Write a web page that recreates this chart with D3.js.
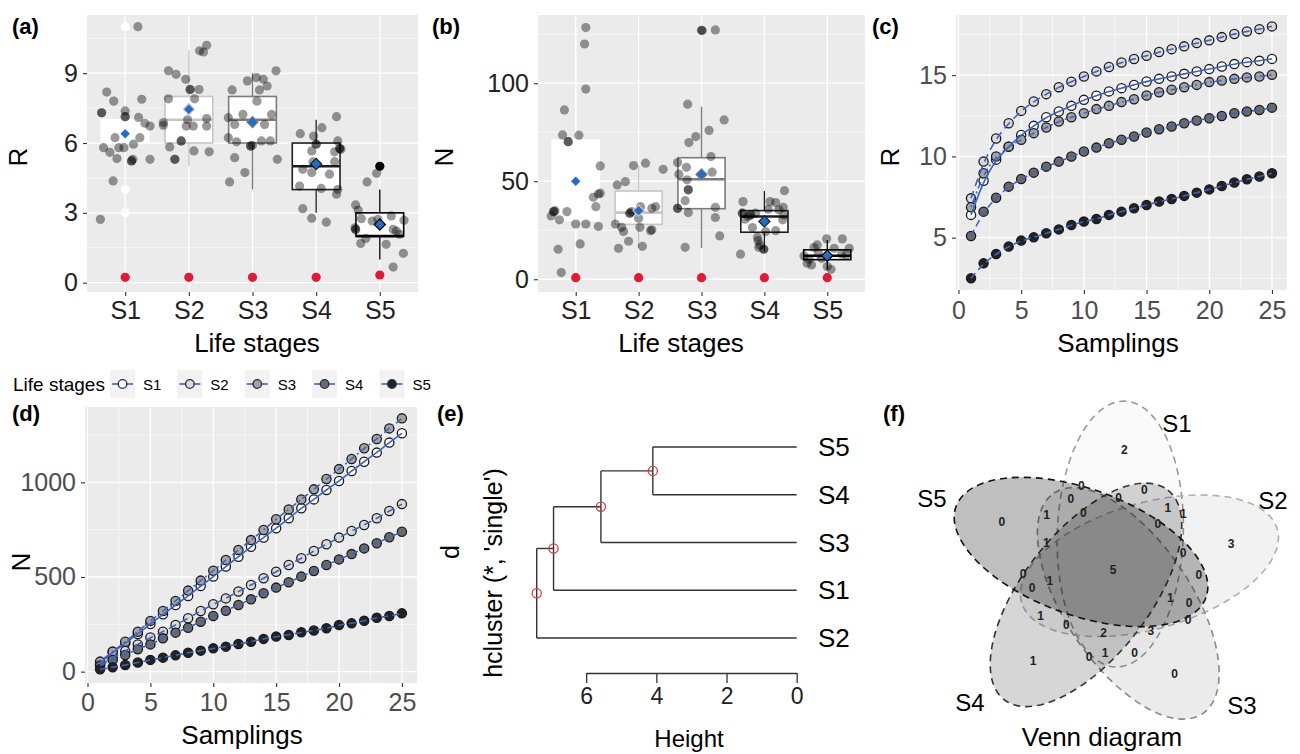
<!DOCTYPE html>
<html>
<head>
<meta charset="utf-8">
<script src="https://cdn.jsdelivr.net/npm/d3@7"></script>
<style>
  body { margin: 0; background: #fff; }
  text { font-family: "Liberation Sans", Arial, sans-serif; }
</style>
</head>
<body>
<svg id="fig" width="1300" height="754"></svg>
<script>
const FONT = "'Liberation Sans', Arial, sans-serif";

//life stages shared by all panels
const stages = ["S1", "S2", "S3", "S4", "S5"];

//(a) richness boxplots
const richQ1 = [6, 6, 6, 4, 2];
const richMed = [6, 7, 7, 5, 2];
const richQ3 = [7, 8, 8, 6, 3];
const richLo = [5, 5, 4, 3, 1];
const richHi = [8, 10, 9, 7, 4];
const richOut = [[3, 4, 11], [], [], [], [5]];
const richMean = [6.4, 7.45, 6.9, 5.1, 2.5];
const richZero = [0.23, 0.23, 0.23, 0.23, 0.33];
//jittered observations: [offset in category units, value]
const richJitter = [
  [[-0.39,2.72],[-0.29,8.19],[-0.37,7.3],[-0.37,7.3],[-0.18,7.8],[0,7.38],[0,7.13],[0,7.13],[-0.34,5.8],[-0.24,5.6],[-0.16,6.23],[-0.13,5.33],[-0.19,4.37],[-0.1,5.8],[-0.02,5.8],[0.1,5.23],[0.1,5.23],[0.12,5.3],[0.13,5.95],[0.21,7.1],[0.23,6.23],[0.26,7.88],[0.31,6.85],[0.39,6.73],[0.39,5.3],[0.2,11.0]],
  [[-0.32,9.1],[-0.2,8.95],[-0.05,8.74],[-0.32,7.9],[-0.4,6.88],[-0.4,6.76],[-0.3,5.83],[-0.22,5.3],[-0.22,5.3],[-0.12,6.09],[-0.12,6.09],[0.02,8.3],[0.02,8.3],[0.09,7.9],[0.16,8.3],[0.17,9.96],[0.23,9.91],[0.28,10.2],[-0.04,6.73],[0.07,6.73],[0.08,5.66],[0.28,7.05],[0.28,6.73],[0.32,5.62],[-0.02,7.0]],
  [[-0.36,4.33],[-0.32,8.28],[-0.38,7.09],[-0.38,6.23],[-0.28,6.8],[-0.25,6.05],[-0.28,5.37],[-0.12,4.73],[-0.15,7.23],[-0.08,8.67],[-0.03,5.87],[-0.03,5.87],[0,5.9],[0.06,8.81],[0.07,7.8],[0.11,8.28],[0.17,8.74],[0.23,8.45],[0.19,6.8],[0.14,6.09],[0.3,7.23],[0.28,6.09],[0.37,9.1],[0.39,5.3]],
  [[-0.25,6.4],[-0.21,4.87],[-0.26,4.15],[-0.21,3.18],[-0.07,2.77],[-0.04,6.3],[0,5.95],[0,5.95],[-0.07,5.66],[-0.05,5.19],[-0.07,4.73],[0.08,4.05],[0.09,6.66],[0.16,2.6],[0.21,4.66],[0.29,5.62],[0.29,5.2],[0.32,7.13],[0.34,6.09],[0.34,4.0],[0.32,3.8],[0.37,5.76],[0.37,5.76],[0.39,5.73]],
  [[-0.38,3.34],[-0.34,3.12],[-0.29,2.75],[-0.39,2.36],[-0.38,2.29],[-0.38,2.29],[-0.3,1.68],[-0.22,1.9],[-0.2,4.33],[-0.05,4.7],[-0.12,2.65],[-0.03,2.72],[0.1,1.65],[0.18,2.87],[0.21,2.29],[0.26,2.22],[0.31,2.08],[0.38,2.68],[0.37,1.26],[0.21,0.67]],
];

//(b) abundance boxplots
const abunQ1 = [30, 28, 36, 24, 10];
const abunMed = [40, 34, 51, 32, 12];
const abunQ3 = [71, 45, 62, 35, 15];
const abunLo = [3, 16, 16, 14, 5];
const abunHi = [128, 58, 88, 45, 20];
const abunOut = [[], [], [127], [], []];
const abunMean = [50, 35, 53.5, 29.5, 12];
const abunZero = [0.8, 0.8, 0.8, 0.8, 0.8];
const abunJitter = [
  [[-0.39,32.3],[-0.35,34.5],[-0.35,34.5],[-0.33,35],[-0.28,15.3],[-0.23,3.4],[-0.26,30.3],[-0.18,86.4],[-0.21,73.6],[-0.12,70.2],[-0.12,70.2],[-0.14,34.5],[0,28.2],[0.05,73.5],[0.07,18],[0.14,120],[0.16,128.4],[0.16,97],[0.16,28.2],[0.28,41.8],[0.32,37],[0.36,26.9],[0.39,57.8],[0.39,43.9],[0.36,43.5]],
  [[-0.34,48.1],[-0.21,49.8],[-0.37,28.2],[-0.27,26.5],[-0.24,24.3],[-0.32,15.8],[-0.16,19.4],[-0.14,33.7],[-0.14,33.7],[-0.11,34.5],[-0.08,58],[0,31.1],[0.03,37],[0.02,26.5],[0.06,16.8],[0.11,59.2],[0.19,24.8],[0.21,36.2],[0.21,25.2],[0.27,37],[0.39,56.1]],
  [[-0.38,59.5],[-0.36,53.6],[-0.38,36.2],[-0.38,36.2],[-0.26,40.1],[-0.24,57.1],[-0.23,50.7],[-0.21,45.6],[-0.21,45.6],[-0.21,34],[-0.2,69.7],[-0.26,16.3],[-0.22,89.3],[-0.09,72.8],[0.01,126.9],[0.12,75.9],[0.15,62.6],[0.17,54.6],[0.22,127.2],[0.22,36.7],[0.22,31.5],[0.29,22.1],[0.36,81.3]],
  [[-0.38,12.8],[-0.34,39.6],[-0.35,33.7],[-0.35,33.7],[-0.31,30.6],[-0.26,32],[-0.22,32.8],[-0.22,32.8],[-0.14,33.7],[-0.19,26.4],[-0.11,21.4],[-0.1,19.7],[-0.07,17.5],[-0.09,16.3],[-0.01,15.3],[-0.01,15.3],[0.02,24.3],[0.06,35.7],[0.09,39.6],[0.18,39.1],[0.18,24.8],[0.23,35.4],[0.3,36.7],[0.32,45.2],[0.31,32.8],[0.29,30.3]],
  [[-0.37,11.9],[-0.32,8.2],[-0.29,10.2],[-0.25,7.3],[-0.21,16.2],[-0.16,17.5],[-0.14,13.3],[-0.09,10.7],[0,6.5],[-0.01,20.6],[0.06,5.1],[0.11,15.8],[0.24,20.6],[0.3,12.4],[0.35,15.8],[0.23,12.9]],
];

//(c) cumulative richness by number of samplings
const samplings = d3.range(1, 26);
const cumRichS1 = [6.4,8.5,9.8,10.6,11.32,11.88,12.41,12.76,13.11,13.48,13.73,14.0,14.2,14.4,14.61,14.77,14.92,15.08,15.23,15.37,15.53,15.68,15.8,15.88,16.0];
const cumRichS2 = [7.42,9.68,11.1,12.04,12.8,13.38,13.83,14.26,14.6,14.92,15.23,15.5,15.78,15.99,16.19,16.42,16.6,16.77,16.97,17.14,17.34,17.53,17.69,17.83,18.0];
const cumRichS3 = [6.87,8.96,9.99,10.6,11.02,11.43,11.78,12.15,12.41,12.66,12.91,13.11,13.34,13.52,13.75,13.95,14.1,14.26,14.4,14.57,14.67,14.77,14.86,14.92,15.02];
const cumRichS4 = [5.1,6.6,7.46,8.14,8.61,9.0,9.37,9.68,9.99,10.3,10.54,10.81,11.02,11.22,11.47,11.67,11.84,12.04,12.21,12.35,12.49,12.66,12.76,12.86,13.0];
const cumRichS5 = [2.5,3.42,4.0,4.45,4.82,5.02,5.27,5.51,5.78,5.99,6.15,6.4,6.6,6.81,7.01,7.22,7.38,7.57,7.77,7.97,8.18,8.39,8.59,8.76,8.96];

//(d) cumulative abundance
const cumAbunS1 = [44,102,150,199,252,303,352,400,452,502,555,607,660,708,757,810,863,910,960,1007,1060,1109,1157,1210,1259];
const cumAbunS2 = [35,74,109,144,180,211,246,282,320,356,387,423,458,493,528,563,599,637,673,708,743,775,810,849,885];
const cumAbunS3 = [53,106,158,211,268,320,373,428,481,533,590,643,695,748,805,857,910,963,1018,1070,1123,1180,1229,1285,1338];
const cumAbunS4 = [32,62,88,118,144,176,206,232,264,294,322,352,382,414,444,472,502,532,563,593,621,651,678,710,739];
const cumAbunS5 = [12,23,35,48,62,74,86,100,111,123,132,146,158,173,185,194,208,217,229,246,255,269,285,294,308];

//(e) single-linkage clustering: leaf order and merges [childA, childB, height]
const dendLeaves = ["S5", "S4", "S3", "S1", "S2"];
const dendMerges = [["S5", "S4", 4.1], [0, "S3", 5.58], [1, "S1", 6.93], [2, "S2", 7.41]];

//(f) venn counts, one value per set sector (S1..S5)
const vennSingle = [2, 3, 0, 1, 0];
const vennOrbitA = [0, 1, 2, 1, 0];
const vennOrbitB = [0, 0, 3, 0, 1];
const vennOrbitC = [0, 0, 0, 1, 1];
const vennOrbitD = [1, 0, 1, 0, 0];
const vennOrbitE = [1, 0, 0, 0, 0];
const vennCore = 5;

//styles
const boxColor = ["#ffffff", "#c6c6c6", "#7c7c7c", "#1e1e1e", "#000000"];
const pointFill = ["#ffffff", "#d9d9d9", "#a3a3a3", "#6a6a6a", "#232323"];
const fitDash = [null, "8,5", "2,3,7,3", "7,4", "7,4"];
const BLUE = "#3d62c4";

const svg = d3.select("#fig");
svg.append("rect").attr("width", 1300).attr("height", 754).attr("fill", "#fff");

//grey ggplot-like panel with grid and axes
function ggPanel(g, x, y, opt) {
  const [xa, xb] = x.range();
  const [yb, ya] = y.range();
  g.append("rect")
    .attr("x", xa).attr("y", ya)
    .attr("width", xb - xa).attr("height", yb - ya)
    .attr("fill", "#ebebeb");

  const grid = g.append("g").attr("stroke", "#fff");
  (opt.xMinor || []).forEach((v) => {
    grid.append("line").attr("x1", x(v)).attr("x2", x(v)).attr("y1", ya).attr("y2", yb).attr("stroke-width", 0.6);
  });
  (opt.yMinor || []).forEach((v) => {
    grid.append("line").attr("x1", xa).attr("x2", xb).attr("y1", y(v)).attr("y2", y(v)).attr("stroke-width", 0.6);
  });
  opt.xTicks.forEach((v) => {
    grid.append("line").attr("x1", x(v)).attr("x2", x(v)).attr("y1", ya).attr("y2", yb).attr("stroke-width", 1.3);
  });
  opt.yTicks.forEach((v) => {
    grid.append("line").attr("x1", xa).attr("x2", xb).attr("y1", y(v)).attr("y2", y(v)).attr("stroke-width", 1.3);
  });

  const ax = g.append("g")
    .attr("transform", `translate(0,${yb})`)
    .call(d3.axisBottom(x).tickValues(opt.xTicks).tickFormat(opt.xFmt).tickSize(4).tickPadding(opt.xPad));
  const ay = g.append("g")
    .attr("transform", `translate(${xa},0)`)
    .call(d3.axisLeft(y).tickValues(opt.yTicks).tickFormat(d3.format("d")).tickSize(4).tickPadding(5));
  [ax, ay].forEach((a) => {
    a.select(".domain").remove();
    a.attr("font-family", FONT).attr("font-size", 25);
    a.selectAll("line").attr("stroke", "#333").attr("stroke-width", 1.1);
    a.selectAll("text").attr("fill", opt.tickColor);
  });
}

function axisTitle(text, x, y, rotate, size) {
  svg.append("text")
    .attr("transform", `translate(${x},${y})` + (rotate ? " rotate(-90)" : ""))
    .attr("text-anchor", "middle")
    .attr("dominant-baseline", rotate ? "central" : "auto")
    .attr("font-size", size || 26)
    .attr("fill", "#000")
    .text(text);
}

function panelTag(text, x, y) {
  svg.append("text").attr("x", x).attr("y", y)
    .attr("font-size", 22).attr("font-weight", "bold").text(text);
}

//boxplot + jitter + mean + zero dots
function drawBoxPanel(g, x, y, box, jitter, means, zeros) {
  const half = x(1.375) - x(1);
  stages.forEach((s, i) => {
    const cx = x(i + 1);
    const col = boxColor[i];
    const bg = g.append("g");
    bg.append("line").attr("x1", cx).attr("x2", cx).attr("y1", y(box.lo[i])).attr("y2", y(box.q1[i]))
      .attr("stroke", col).attr("stroke-width", 1.3);
    bg.append("line").attr("x1", cx).attr("x2", cx).attr("y1", y(box.q3[i])).attr("y2", y(box.hi[i]))
      .attr("stroke", col).attr("stroke-width", 1.3);
    bg.append("rect")
      .attr("x", cx - half).attr("y", y(box.q3[i]))
      .attr("width", half * 2).attr("height", y(box.q1[i]) - y(box.q3[i]))
      .attr("fill", "#fff").attr("stroke", col).attr("stroke-width", 1.6);
    bg.append("line").attr("x1", cx - half).attr("x2", cx + half)
      .attr("y1", y(box.med[i])).attr("y2", y(box.med[i]))
      .attr("stroke", col).attr("stroke-width", 2.6);
    bg.selectAll("circle.out").data(box.out[i]).join("circle")
      .attr("cx", cx).attr("cy", (d) => y(d)).attr("r", 4.6).attr("fill", col);
  });

  stages.forEach((s, i) => {
    g.append("g").selectAll("circle").data(jitter[i]).join("circle")
      .attr("cx", (d) => x(i + 1 + d[0]))
      .attr("cy", (d) => y(d[1]))
      .attr("r", 4.6)
      .attr("fill", "#000")
      .attr("fill-opacity", 0.4);
  });

  const diamond = d3.symbol(d3.symbolSquare, 62);
  g.append("g").selectAll("path").data(means).join("path")
    .attr("d", diamond)
    .attr("transform", (d, i) => `translate(${x(i + 1)},${y(d)}) rotate(45)`)
    .attr("fill", "#1f6fc6")
    .attr("stroke", (d, i) => boxColor[i])
    .attr("stroke-width", 1.2);

  g.append("g").selectAll("circle").data(zeros).join("circle")
    .attr("cx", (d, i) => x(i + 1))
    .attr("cy", (d) => y(d))
    .attr("r", 4.6)
    .attr("fill", "#e31a36");
}

//(a)
const xA = d3.scaleLinear().domain([0.4, 5.6]).range([87, 418]);
const yA = d3.scaleLinear().domain([-0.4, 11.5]).range([292, 15]);
const gA = svg.append("g");
ggPanel(gA, xA, yA, {
  xTicks: [1, 2, 3, 4, 5], xFmt: (d) => stages[d - 1], xPad: 5,
  yTicks: [0, 3, 6, 9], yMinor: [1.5, 4.5, 7.5, 10.5], tickColor: "#222",
});
drawBoxPanel(gA, xA, yA,
  { q1: richQ1, med: richMed, q3: richQ3, lo: richLo, hi: richHi, out: richOut },
  richJitter, richMean, richZero);
axisTitle("R", 18, 157, true);
axisTitle("Life stages", 257, 352);
panelTag("(a)", 12, 34);

//(b)
const xB = d3.scaleLinear().domain([0.4, 5.6]).range([538, 865]);
const yB = d3.scaleLinear().domain([-6.5, 134.8]).range([292, 15]);
const gB = svg.append("g");
ggPanel(gB, xB, yB, {
  xTicks: [1, 2, 3, 4, 5], xFmt: (d) => stages[d - 1], xPad: 5,
  yTicks: [0, 50, 100], yMinor: [25, 75, 125], tickColor: "#222",
});
drawBoxPanel(gB, xB, yB,
  { q1: abunQ1, med: abunMed, q3: abunQ3, lo: abunLo, hi: abunHi, out: abunOut },
  abunJitter, abunMean, abunZero);
axisTitle("N", 444, 157, true);
axisTitle("Life stages", 681, 352);
panelTag("(b)", 432, 34);

//accumulation curve panels
function drawCurves(g, x, y, series) {
  const line = d3.line().x((d, j) => x(samplings[j])).y((d) => y(d)).curve(d3.curveBasis);
  series.forEach((vals, i) => {
    g.append("g").selectAll("circle").data(vals).join("circle")
      .attr("cx", (d, j) => x(samplings[j]))
      .attr("cy", (d) => y(d))
      .attr("r", 4.6)
      .attr("fill", pointFill[i])
      .attr("stroke", "#1a1a1a")
      .attr("stroke-width", 1.3);
  });
  series.forEach((vals, i) => {
    g.append("path").attr("d", line(vals))
      .attr("fill", "none").attr("stroke", BLUE).attr("stroke-width", 1.6)
      .attr("stroke-dasharray", fitDash[i]);
  });
}

//(c)
const xC = d3.scaleLinear().domain([-0.2, 26.2]).range([956, 1287]);
const yC = d3.scaleLinear().domain([1.78, 18.7]).range([290, 15]);
const gC = svg.append("g");
ggPanel(gC, xC, yC, {
  xTicks: [0, 5, 10, 15, 20, 25], xMinor: [2.5, 7.5, 12.5, 17.5, 22.5], xFmt: d3.format("d"), xPad: 7,
  yTicks: [5, 10, 15], yMinor: [2.5, 7.5, 12.5, 17.5], tickColor: "#4d4d4d",
});
drawCurves(gC, xC, yC, [cumRichS1, cumRichS2, cumRichS3, cumRichS4, cumRichS5]);
axisTitle("R", 890, 157, true);
axisTitle("Samplings", 1118, 352);
panelTag("(c)", 872, 34);

//(d)
const xD = d3.scaleLinear().domain([-0.2, 26.2]).range([85, 417]);
const yD = d3.scaleLinear().domain([-60, 1398]).range([683, 407]);
const gD = svg.append("g");
ggPanel(gD, xD, yD, {
  xTicks: [0, 5, 10, 15, 20, 25], xMinor: [2.5, 7.5, 12.5, 17.5, 22.5], xFmt: d3.format("d"), xPad: 6,
  yTicks: [0, 500, 1000], yMinor: [250, 750, 1250], tickColor: "#4d4d4d",
});
drawCurves(gD, xD, yD, [cumAbunS1, cumAbunS2, cumAbunS3, cumAbunS4, cumAbunS5]);
axisTitle("N", 21, 562, true);
axisTitle("Samplings", 242, 744);
panelTag("(d)", 12, 421);

//legend row
const leg = svg.append("g");
leg.append("text").attr("x", 13).attr("y", 391).attr("font-size", 19).text("Life stages");
let lx = 110;
stages.forEach((s, i) => {
  const k = leg.append("g").attr("transform", `translate(${lx},370)`);
  k.append("rect").attr("width", 25).attr("height", 28).attr("fill", "#f2f2f2");
  k.append("line").attr("x1", 2).attr("x2", 23).attr("y1", 14).attr("y2", 14)
    .attr("stroke", BLUE).attr("stroke-width", 1.6);
  k.append("circle").attr("cx", 12.5).attr("cy", 14).attr("r", 4.3)
    .attr("fill", pointFill[i]).attr("stroke", "#2a2f45").attr("stroke-width", 1.3);
  const t = k.append("text").attr("x", 33).attr("y", 20).attr("font-size", 15).text(s);
  lx += 33 + t.node().getComputedTextLength() + 16;
});

//(e) dendrogram
const gE = svg.append("g");
const yLeaf = d3.scalePoint().domain(dendLeaves).range([447, 638]);
const xH = d3.scaleLinear().domain([0, 7.41]).range([796.7, 536.7]);
const nodes = [];
const pos = (c) => (typeof c === "number" ? nodes[c] : { h: 0, y: yLeaf(c) });
dendMerges.forEach(([a, b, h]) => {
  const pa = pos(a), pb = pos(b);
  [pa, pb].forEach((p) => {
    gE.append("line").attr("x1", xH(p.h)).attr("x2", xH(h)).attr("y1", p.y).attr("y2", p.y)
      .attr("stroke", "#333").attr("stroke-width", 1.4);
  });
  gE.append("line").attr("x1", xH(h)).attr("x2", xH(h)).attr("y1", pa.y).attr("y2", pb.y)
    .attr("stroke", "#333").attr("stroke-width", 1.4);
  nodes.push({ h: h, y: (pa.y + pb.y) / 2 });
});
gE.append("g").selectAll("circle").data(nodes).join("circle")
  .attr("cx", (d) => xH(d.h)).attr("cy", (d) => d.y).attr("r", 4.6)
  .attr("fill", "none").attr("stroke", "#e0393e").attr("stroke-width", 1.3);
gE.append("g").selectAll("text").data(dendLeaves).join("text")
  .attr("x", 818).attr("y", (d) => yLeaf(d))
  .attr("dominant-baseline", "central").attr("font-size", 26).text((d) => d);
const hAxis = d3.scaleLinear().domain([0, 6]).range([xH(0), xH(6)]);
const axE = gE.append("g").attr("transform", "translate(0,673)")
  .call(d3.axisBottom(hAxis).tickValues([0, 2, 4, 6]).tickFormat(d3.format("d")).tickSize(10).tickSizeOuter(0).tickPadding(5));
axE.attr("font-family", FONT).attr("font-size", 23);
axE.selectAll("line, path").attr("stroke", "#333").attr("stroke-width", 1.3);
axE.selectAll("text").attr("fill", "#222");
axisTitle("Height", 689, 747, false, 24);
axisTitle("hcluster (*, 'single')", 493, 573, true, 25);
axisTitle("d", 450, 552, true, 25);
panelTag("(e)", 437, 421);

//(f) five-set venn diagram
const gF = svg.append("g");
const C = [1113, 570];
const vennOffset = 36.7, ellA = 133, ellB = 63;
const vennStroke = ["#9a9a9a", "#b0b0b0", "#8a8a8a", "#333333", "#111111"];
const vennAlpha = [0.02, 0.05, 0.08, 0.16, 0.25];
const dirOf = (k) => (209.4 + 72 * (k + 1)) % 360;
const rad = (a) => (a * Math.PI) / 180;
const polar = (r, a) => [C[0] + r * Math.cos(rad(a)), C[1] + r * Math.sin(rad(a))];
stages.forEach((s, k) => {
  const [ex, ey] = polar(vennOffset, dirOf(k));
  gF.append("ellipse")
    .attr("cx", ex).attr("cy", ey).attr("rx", ellA).attr("ry", ellB)
    .attr("transform", `rotate(${dirOf(k) - 189.4},${ex},${ey})`)
    .attr("fill", "#000").attr("fill-opacity", vennAlpha[k])
    .attr("stroke", vennStroke[k]).attr("stroke-width", 1.6)
    .attr("stroke-dasharray", "7,5");
});
const orbits = [
  { counts: vennSingle, r: 121, off: -6 },
  { counts: vennOrbitA, r: 64, off: 33 },
  { counts: vennOrbitB, r: 72, off: -7 },
  { counts: vennOrbitC, r: 86, off: 10 },
  { counts: vennOrbitD, r: 83, off: 30 },
  { counts: vennOrbitE, r: 90, off: 40 },
];
const regionLabels = [];
orbits.forEach((o) => o.counts.forEach((c, k) => regionLabels.push({ c, p: polar(o.r, dirOf(k) + o.off) })));
regionLabels.push({ c: vennCore, p: C });
gF.append("g").selectAll("text").data(regionLabels).join("text")
  .attr("x", (d) => d.p[0]).attr("y", (d) => d.p[1])
  .attr("text-anchor", "middle").attr("dominant-baseline", "central")
  .attr("font-family", "'Liberation Serif', 'Times New Roman', serif")
  .attr("font-weight", "bold").attr("font-size", 12).attr("fill", "#222")
  .text((d) => d.c);
const setLabelPos = [[1177, 423], [1273, 500], [1242, 705], [970, 702], [932, 498]];
gF.append("g").selectAll("text").data(stages).join("text")
  .attr("x", (d, k) => setLabelPos[k][0]).attr("y", (d, k) => setLabelPos[k][1])
  .attr("text-anchor", "middle").attr("dominant-baseline", "central")
  .attr("font-size", 24).text((d) => d);
axisTitle("Venn diagram", 1102, 746, false, 26);
panelTag("(f)", 883, 421);
</script>
</body>
</html>
